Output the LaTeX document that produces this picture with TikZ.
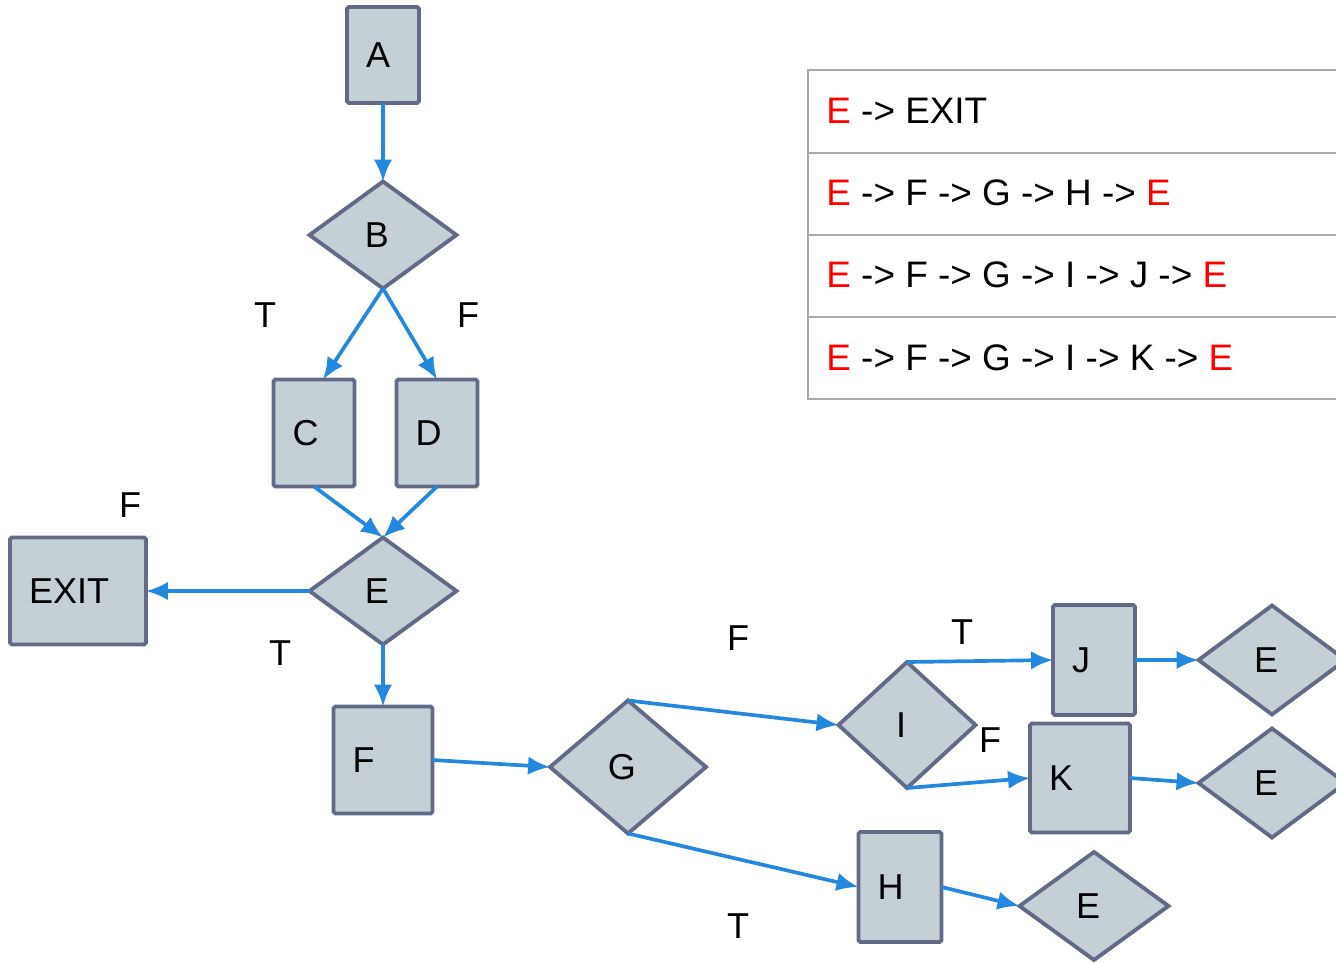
\documentclass[tikz,border=0pt]{standalone}
\usepackage{fontspec}
\setmainfont{Liberation Sans}
\usepackage{tikz}
\usetikzlibrary{shapes.geometric,arrows.meta}

\definecolor{nodefill}{RGB}{197,207,214}
\definecolor{nodeline}{RGB}{98,106,135}
\definecolor{flow}{RGB}{36,136,220}
\definecolor{tabline}{RGB}{170,170,170}

\begin{document}
\begin{tikzpicture}[x=0.02cm,y=-0.02cm,
        blk/.style={draw=nodeline,fill=nodefill,line width=2.2pt,rounded corners=1pt,outer sep=0pt,
            inner xsep=0.38cm,inner ysep=0pt,align=left,text width=#1,minimum height=2.14cm,
            font=\fontsize{20.5}{24}\selectfont},
        cond/.style={diamond,draw=nodeline,fill=nodefill,line width=2.2pt,inner sep=0pt,outer sep=0pt,
            minimum width=2.94cm,minimum height=2.14cm,font=\fontsize{20.5}{24}\selectfont,
            execute at end node=\hspace*{0.24cm}},
        flowline/.style={draw=flow,line width=2.1pt,>={Latex[length=12.5pt,width=10.5pt]}},
        tf/.style={font=\fontsize{20.5}{24}\selectfont},
        row/.style={anchor=west,inner sep=0pt,font=\fontsize{21}{25}\selectfont}]
        \clip (0,0) rectangle (1336,963);

        % Main column
        \node[blk=0.68cm,minimum height=1.92cm] (A) at (383,55) {A};
        \node[cond] (B) at (383,235) {B};
        \node[blk=0.86cm] (C) at (314,433) {C};
        \node[blk=0.86cm] (D) at (437,433) {D};
        \node[cond] (E) at (383,591) {E};
        \node[blk=1.96cm] (EXIT) at (78,591) {EXIT};
        \node[blk=1.22cm] (F) at (383,760) {F};

        % Branches to the right
        \node[cond,minimum width=3.12cm,minimum height=2.66cm] (G) at (628,767) {G};
        \node[cond,minimum width=2.74cm,minimum height=2.52cm] (I) at (907,725) {I};
        \node[blk=0.88cm,minimum height=2.2cm] (J) at (1094,660) {J};
        \node[blk=1.24cm,minimum height=2.18cm] (K) at (1080,778) {K};
        \node[blk=0.9cm,minimum height=2.2cm] (H) at (900,887) {H};
        \node[cond,minimum height=2.18cm] (EJ) at (1272,660) {E};
        \node[cond,minimum height=2.18cm] (EK) at (1272,783) {E};
        \node[cond,minimum width=2.98cm,minimum height=2.16cm] (EH) at (1094,906) {E};

        % Connectors
        \draw[flowline,->] (A.south) -- (B.north);
        \draw[flowline,->] (B.south) -- ([xshift=0.18cm]C.north);
        \draw[flowline,->] (B.south) -- (D.north);
        \draw[flowline,->] (C.south) -- (E.north);
        \draw[flowline,->] (D.south) -- (E.north);
        \draw[flowline,->] (E.west) -- (EXIT.east);
        \draw[flowline,->] (E.south) -- (F.north);
        \draw[flowline,->] (F.east) -- (G.west);
        \draw[flowline,->] (G.north) -- (I.west);
        \draw[flowline,->] (G.south) -- (H.west);
        \draw[flowline,->] (I.north) -- (J.west);
        \draw[flowline,->] (I.south) -- (K.west);
        \draw[flowline,->] (J.east) -- (EJ.west);
        \draw[flowline,->] (K.east) -- (EK.west);
        \draw[flowline,->] (H.east) -- (EH.west);

        % Branch labels
        \node[tf] (tB) at (265,315) {T};
        \node[tf] (fB) at (468,315) {F};
        \node[tf] (fE) at (130,505) {F};
        \node[tf] (tE) at (280,653) {T};
        \node[tf] (fG) at (738,638) {F};
        \node[tf] (tG) at (738,926) {T};
        \node[tf] (tI) at (962,632) {T};
        \node[tf] (fI) at (990,740) {F};

        % Path table
        \draw[tabline,line width=1.2pt] (808,70) rectangle (1400,399);
        \draw[tabline,line width=1.2pt] (808,153) -- (1400,153);
        \draw[tabline,line width=1.2pt] (808,235) -- (1400,235);
        \draw[tabline,line width=1.2pt] (808,317) -- (1400,317);
        \node[row] (p1) at (826,111) {\textcolor{red}{E} -> EXIT};
        \node[row] (p2) at (826,193) {\textcolor{red}{E} -> F -> G -> H -> \textcolor{red}{E}};
        \node[row] (p3) at (826,275) {\textcolor{red}{E} -> F -> G -> I -> J -> \textcolor{red}{E}};
        \node[row] (p4) at (826,358) {\textcolor{red}{E} -> F -> G -> I -> K -> \textcolor{red}{E}};
    \end{tikzpicture}
\end{document}
